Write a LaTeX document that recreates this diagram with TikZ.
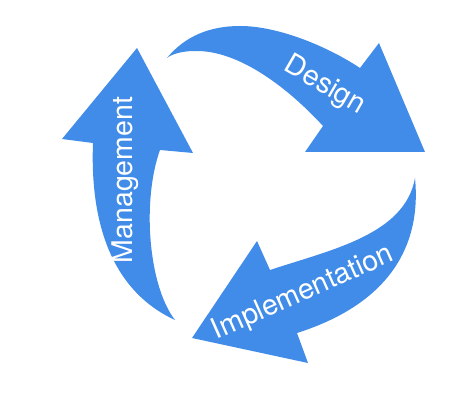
\documentclass[tikz,border=0pt]{standalone}
\usepackage{fontspec}
\setmainfont{TeX Gyre Heros}
\definecolor{cycleblue}{RGB}{65,140,232}
\tikzset{
  arrowpart/.style={fill=cycleblue, draw=none},
  steplabel/.style={text=white, font=\fontsize{28.5}{28.5}\selectfont, inner sep=0pt, anchor=base}
}

\begin{document}
\begin{tikzpicture}[x=1pt, y=-1pt]

\useasboundingbox (0,0) rectangle (474,409);

% Design
\fill[arrowpart] (167,58) .. controls (185,36) and (210,26) .. (240,26)
  .. controls (280,26) and (330,48) .. (360,68)
  -- (379,43) -- (425,152) -- (305,152) -- (323,126)
  .. controls (290,90) and (240,50) .. (195,51)
  .. controls (182,51) and (172,54) .. (167,58) -- cycle;

% Implementation
\fill[arrowpart] (415,178) .. controls (422,250) and (385,305) .. (297,333)
  -- (308,363) -- (192,338) -- (257,241) -- (270,270)
  .. controls (330,250) and (405,235) .. (415,178) -- cycle;

% Management
\fill[arrowpart] (175,320) .. controls (148,285) and (142,200) .. (160,150)
  -- (193,153) -- (137,48) -- (62,139) -- (93,143)
  .. controls (90,220) and (110,290) .. (175,320) -- cycle;

\node[steplabel, rotate=-30] (design) at (321,92) {Design};
\node[steplabel, rotate=24] (implementation) at (306,300) {Implementation};
\node[steplabel, rotate=90] (management) at (132,180) {Management};

\end{tikzpicture}
\end{document}
